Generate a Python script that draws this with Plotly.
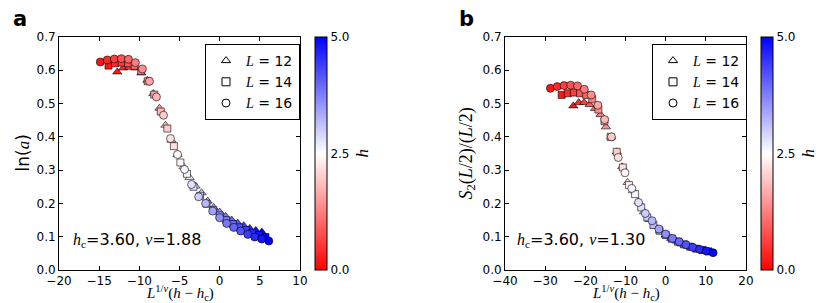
import plotly.graph_objects as go

W, H = 830, 303

# ---- data ----
h_vals = [0.2, 0.4, 0.6, 0.8, 1.0, 1.2, 1.4, 1.6, 1.8, 2.0, 2.2, 2.4, 2.6, 2.8, 3.0,
          3.2, 3.4, 3.6, 3.8, 4.0, 4.2, 4.4, 4.6, 4.8, 5.0]

# panel a: x = L^{1/nu}(h-hc), hc=3.60, nu=1.88
xa_L12 = [-12.75, -12.00, -11.25, -10.50, -9.75, -9.00, -8.25, -7.50, -6.75, -6.00, -5.25, -4.50, -3.75,
          -3.00, -2.25, -1.50, -0.75, 0.00, 0.75, 1.50, 2.25, 3.00, 3.75, 4.50, 5.25]
xa_L14 = [-13.84, -13.03, -12.21, -11.40, -10.58, -9.77, -8.96, -8.14, -7.33, -6.51, -5.70, -4.89, -4.07,
          -3.26, -2.44, -1.63, -0.81, 0.00, 0.81, 1.63, 2.44, 3.26, 4.07, 4.89, 5.70]
xa_L16 = [-14.86, -13.99, -13.11, -12.24, -11.36, -10.49, -9.62, -8.74, -7.87, -6.99, -6.12, -5.24, -4.37,
          -3.50, -2.62, -1.75, -0.87, 0.00, 0.87, 1.75, 2.62, 3.50, 4.37, 5.24, 6.12]
ya_L12 = [0.595, 0.607, 0.609, 0.607, 0.592, 0.570, 0.530, 0.486, 0.435, 0.390, 0.347, 0.310, 0.278,
          0.252, 0.232, 0.207, 0.188, 0.174, 0.161, 0.150, 0.141, 0.133, 0.125, 0.119, 0.114]
ya_L14 = [0.614, 0.621, 0.623, 0.621, 0.613, 0.598, 0.567, 0.527, 0.476, 0.425, 0.372, 0.323, 0.289,
          0.250, 0.223, 0.199, 0.180, 0.164, 0.150, 0.138, 0.128, 0.120, 0.112, 0.105, 0.099]
ya_L16 = [0.625, 0.631, 0.634, 0.635, 0.633, 0.623, 0.604, 0.567, 0.520, 0.465, 0.395, 0.347, 0.302,
          0.257, 0.220, 0.200, 0.177, 0.157, 0.140, 0.128, 0.117, 0.107, 0.099, 0.093, 0.087]

# panel b: hc=3.60, nu=1.30
xb_L12 = [-22.99, -21.64, -20.29, -18.94, -17.58, -16.23, -14.88, -13.53, -12.17, -10.82, -9.47, -8.12, -6.76,
          -5.41, -4.06, -2.71, -1.35, 0.00, 1.35, 2.71, 4.06, 5.41, 6.76, 8.12, 9.47]
xb_L14 = [-25.89, -24.37, -22.84, -21.32, -19.80, -18.27, -16.75, -15.23, -13.71, -12.18, -10.66, -9.14, -7.61,
          -6.09, -4.57, -3.05, -1.52, 0.00, 1.52, 3.05, 4.57, 6.09, 7.61, 9.14, 10.66]
xb_L16 = [-28.69, -27.00, -25.31, -23.63, -21.94, -20.25, -18.56, -16.88, -15.19, -13.50, -11.81, -10.13, -8.44,
          -6.75, -5.06, -3.38, -1.69, 0.00, 1.69, 3.38, 5.06, 6.75, 8.44, 10.13, 11.81]
yb_L12 = [0.493, 0.503, 0.503, 0.497, 0.485, 0.467, 0.430, 0.400, 0.355, 0.310, 0.263, 0.238, 0.205,
          0.175, 0.152, 0.133, 0.118, 0.105, 0.095, 0.087, 0.078, 0.072, 0.066, 0.062, 0.058]
yb_L14 = [0.526, 0.531, 0.533, 0.531, 0.526, 0.513, 0.482, 0.447, 0.400, 0.355, 0.308, 0.255, 0.228,
          0.188, 0.158, 0.135, 0.118, 0.105, 0.094, 0.085, 0.077, 0.070, 0.064, 0.060, 0.056]
yb_L16 = [0.546, 0.551, 0.554, 0.555, 0.553, 0.543, 0.526, 0.495, 0.452, 0.400, 0.338, 0.292, 0.245,
          0.203, 0.170, 0.148, 0.123, 0.108, 0.095, 0.085, 0.076, 0.068, 0.062, 0.057, 0.052]

L_labels = ["12", "14", "16"]
symbols = ["triangle-up", "square", "circle"]
x_ticks_a = [-20, -15, -10, -5, 0, 5, 10]
x_ticks_b = [-40, -30, -20, -10, 0, 10, 20]
y_ticks = [0.0, 0.1, 0.2, 0.3, 0.4, 0.5, 0.6, 0.7]
cbar_ticks = [0.0, 2.5, 5.0]
cbar_ticktext = ["0.0", "2.5", "5.0"]

SANS = "DejaVu Sans"
SERIF = "Liberation Serif"

def px_x(p):
    return p / W

def px_y(p):
    return 1 - p / H

colorscale = [[0.0, "rgb(255,0,0)"], [0.5, "rgb(255,255,255)"], [1.0, "rgb(0,0,255)"]]

fig = go.Figure()

panels = [
    ("x", "y", "coloraxis", "legend", [xa_L12, xa_L14, xa_L16], [ya_L12, ya_L14, ya_L16]),
    ("x2", "y2", "coloraxis2", "legend2", [xb_L12, xb_L14, xb_L16], [yb_L12, yb_L14, yb_L16]),
]
sizes = [8, 7, 8]
for xa, ya, cax, leg, xs, ys in panels:
    for i in range(3):
        fig.add_trace(go.Scatter(
            x=xs[i], y=ys[i], xaxis=xa, yaxis=ya, mode="markers", showlegend=False,
            marker=dict(color=h_vals, coloraxis=cax, symbol=symbols[i], size=sizes[i],
                        line=dict(color="rgba(0,0,0,0.85)", width=0.7)),
            hoverinfo="skip"))
    for i in range(3):
        fig.add_trace(go.Scatter(
            x=[None], y=[None], xaxis=xa, yaxis=ya, mode="markers", legend=leg,
            name='<span style="font-family:%s"><i>L</i></span> = %s' % (SERIF, L_labels[i]),
            marker=dict(symbol=symbols[i] + "-open", size=8, color="black",
                        line=dict(color="black", width=1))))

axis_common = dict(showline=True, linecolor="black", linewidth=1, mirror="ticks",
                   ticks="inside", ticklen=4, tickwidth=1, tickcolor="black",
                   showgrid=False, zeroline=False, automargin=False,
                   tickfont=dict(family=SANS, size=12, color="black"))

ydom = [33 / H, 266 / H]
fig.update_layout(
    template="none",
    width=W, height=H, margin=dict(l=0, r=0, t=0, b=0, autoexpand=False),
    paper_bgcolor="white", plot_bgcolor="white",
    font=dict(family=SANS, color="black"),
    xaxis=dict(domain=[59 / W, 300 / W], range=[-20, 10], tickvals=x_ticks_a, anchor="y", **axis_common),
    yaxis=dict(domain=ydom, range=[0, 0.7], tickvals=y_ticks, tickformat=".1f", anchor="x", **axis_common),
    xaxis2=dict(domain=[505 / W, 746 / W], range=[-40, 20], tickvals=x_ticks_b, anchor="y2", **axis_common),
    yaxis2=dict(domain=ydom, range=[0, 0.7], tickvals=y_ticks, tickformat=".1f", anchor="x2", **axis_common),
    showlegend=True,
)

def cbar(xleft):
    return dict(thickness=12, thicknessmode="pixels", len=233, lenmode="pixels",
                x=xleft, xanchor="left", y=(ydom[0] + ydom[1]) / 2, yanchor="middle",
                xpad=0, ypad=0, outlinewidth=1, outlinecolor="black",
                tickvals=cbar_ticks, ticktext=cbar_ticktext, ticks="",
                tickfont=dict(family=SANS, size=12, color="black"))

fig.update_layout(
    coloraxis=dict(cmin=0, cmax=5, colorscale=colorscale, colorbar=cbar(315 / W)),
    coloraxis2=dict(cmin=0, cmax=5, colorscale=colorscale, colorbar=cbar(761 / W)),
)

def legend(xleft):
    return dict(x=xleft, y=px_y(44), xanchor="left", yanchor="top",
                bgcolor="white", bordercolor="black", borderwidth=1,
                font=dict(family=SANS, size=14, color="black"), itemsizing="trace")

fig.update_layout(legend=legend(205 / W), legend2=legend(652 / W))

ann = []
ann.append(dict(text="<b>a</b>", x=px_x(11), y=px_y(19), xanchor="left", yanchor="middle",
                font=dict(family=SANS, size=21, color="black")))
ann.append(dict(text="<b>b</b>", x=px_x(457), y=px_y(19), xanchor="left", yanchor="middle",
                font=dict(family=SANS, size=21, color="black")))
ann.append(dict(text='ln(<span style="font-family:%s"><i>a</i></span>)' % SERIF,
                x=px_x(22), y=px_y(153.5), textangle=-90, xanchor="center", yanchor="middle",
                font=dict(family=SANS, size=17, color="black")))
ann.append(dict(text="<i>S</i><sub>2</sub>(<i>L</i>/2)/(<i>L</i>/2)",
                x=px_x(467), y=px_y(153.5), textangle=-90, xanchor="center", yanchor="middle",
                font=dict(family=SERIF, size=18, color="black")))
xlab = "<i>L</i><sup>1/<i>ν</i></sup>(<i>h</i> − <i>h</i><sub>c</sub>)"
ann.append(dict(text=xlab, x=px_x(179.5), y=px_y(293), xanchor="center", yanchor="middle",
                font=dict(family=SERIF, size=15, color="black")))
ann.append(dict(text=xlab, x=px_x(625.5), y=px_y(293), xanchor="center", yanchor="middle",
                font=dict(family=SERIF, size=15, color="black")))
for xc in [362, 808]:
    ann.append(dict(text="<i>h</i>", x=px_x(xc), y=px_y(153.5), textangle=-90,
                    xanchor="center", yanchor="middle",
                    font=dict(family=SERIF, size=17, color="black")))
for xl, nu in [(71, "1.88"), (515, "1.30")]:
    ann.append(dict(text='<span style="font-family:%s"><i>h</i><sub>c</sub></span>=3.60, '
                         '<span style="font-family:%s"><i>ν</i></span>=%s' % (SERIF, SERIF, nu),
                    x=px_x(xl), y=px_y(240), xanchor="left", yanchor="middle",
                    font=dict(family=SANS, size=16, color="black")))
for a in ann:
    a.update(xref="paper", yref="paper", showarrow=False)
fig.update_layout(annotations=ann)

fig.write_html("out.html", config={"displayModeBar": False},
               post_script="document.body.style.margin='0px';document.body.style.overflow='hidden';")
